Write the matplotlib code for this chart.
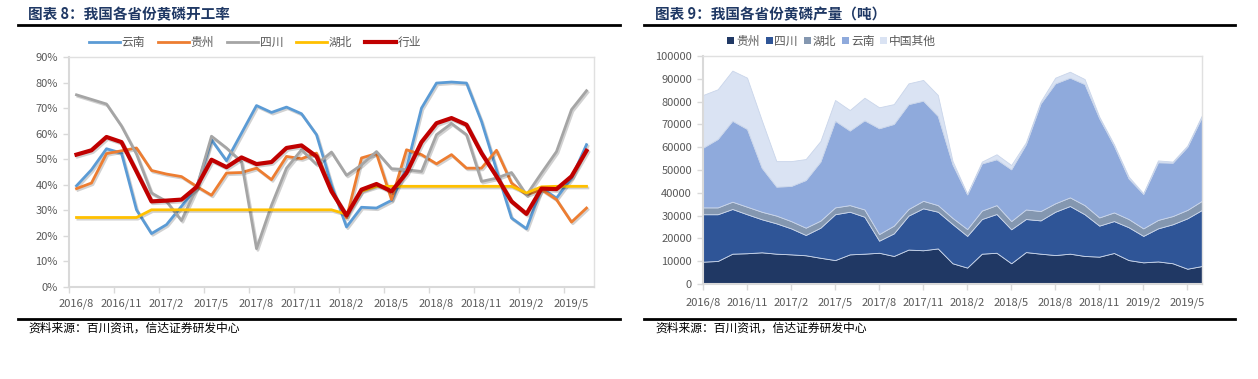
import matplotlib
matplotlib.use("Agg")
import matplotlib.pyplot as plt
import matplotlib.patheffects as pe
from matplotlib.lines import Line2D
from matplotlib.patches import Patch
import numpy as np

plt.rcParams['font.family'] = ['Noto Sans CJK SC', 'DejaVu Sans']

# 月份 2016/8 - 2019/6
n_months = 35
tick_pos = [0, 3, 6, 9, 12, 15, 18, 21, 24, 27, 30, 33]
tick_labels = ['2016/8', '2016/11', '2017/2', '2017/5', '2017/8', '2017/11',
               '2018/2', '2018/5', '2018/8', '2018/11', '2019/2', '2019/5']

# 图表 8: 开工率 (%)
yunnan = [39.6, 45.9, 54.1, 52.4, 30.2, 20.9, 24.4, 31.6, 38.7, 57.6, 49.4, 60.2,
          71.0, 68.3, 70.4, 67.8, 59.6, 40.0, 23.5, 31.2, 30.9, 33.9, 46.5, 70.0,
          79.8, 80.2, 79.8, 64.8, 45.9, 27.0, 22.8, 38.7, 34.8, 42.6, 55.7]
guizhou = [38.5, 40.7, 52.2, 53.3, 54.4, 45.6, 44.2, 43.2, 39.4, 35.9, 44.6, 44.8,
           46.5, 42.0, 51.1, 50.2, 52.4, 38.0, 27.0, 50.5, 52.2, 34.2, 53.7, 51.8,
           48.2, 51.8, 46.5, 46.5, 53.5, 40.7, 36.1, 38.1, 34.2, 25.4, 30.9]
sichuan = [75.2, 73.4, 71.6, 63.0, 52.0, 36.8, 33.5, 26.0, 38.7, 59.0, 54.4, 49.0,
           15.0, 32.0, 46.5, 53.7, 48.0, 52.8, 43.7, 47.8, 53.0, 46.3, 45.9, 45.2,
           59.6, 64.0, 59.6, 41.3, 42.6, 44.8, 36.0, 44.6, 53.0, 69.4, 76.8]
hubei = [27.2, 27.2, 27.2, 27.2, 27.2, 30.2, 30.2, 30.2, 30.2, 30.2, 30.2, 30.2,
         30.2, 30.2, 30.2, 30.2, 30.2, 30.2, 28.5, 37.5, 39.4, 39.4, 39.4, 39.4,
         39.4, 39.4, 39.4, 39.4, 39.4, 39.4, 36.8, 39.2, 39.4, 39.4, 39.4]
hangye = [51.8, 53.5, 58.7, 56.7, 45.2, 33.5, 33.8, 34.2, 39.1, 49.8, 46.9, 50.7,
          48.1, 48.9, 54.4, 55.4, 51.1, 37.4, 28.0, 38.1, 40.3, 37.4, 44.6, 56.7,
          64.1, 66.1, 63.5, 52.4, 43.3, 33.5, 28.6, 38.5, 38.3, 43.3, 53.3]

# 图表 9: 产量 (吨), 各层读数为累计顶线
top_guizhou = [9800, 10100, 13300, 13500, 13900, 13300, 13000, 12600, 11500, 10500,
               13000, 13300, 13700, 12300, 15100, 14800, 15600, 9100, 7200, 13300,
               13700, 9100, 14000, 13300, 12700, 13300, 12300, 12000, 13600, 10500,
               9500, 9900, 9100, 6700, 7900]
top_sichuan = [30600, 30600, 32900, 30600, 28400, 26600, 24400, 21500, 24700, 30600,
               31700, 29500, 19000, 22200, 30000, 33200, 31700, 26300, 21100, 28500,
               30700, 24000, 28500, 27900, 31700, 34200, 30600, 25600, 27600, 24900,
               21100, 24400, 26200, 28800, 32500]
top_hubei = [33600, 33600, 36100, 33900, 31700, 30000, 27600, 24700, 27800, 33600,
             34600, 32700, 21900, 25600, 32900, 36500, 34600, 29000, 24100, 32200,
             34600, 27600, 32700, 32000, 35400, 38000, 34600, 29200, 31400, 28500,
             24400, 28100, 29800, 32500, 36500]
top_yunnan = [59800, 63600, 71600, 68000, 51000, 42700, 43000, 45600, 53700, 71600,
              67300, 71800, 68300, 70200, 78900, 80400, 73700, 52500, 39300, 52900,
              54700, 50300, 61300, 79200, 88000, 90500, 87700, 72700, 60700, 46300,
              39500, 53400, 53200, 60200, 73400]
top_total = [82900, 85400, 93600, 90500, 71900, 53900, 53900, 54800, 62700, 80700,
             76300, 81700, 77500, 78900, 88000, 89500, 82900, 54000, 39500, 53700,
             56900, 52200, 62100, 80000, 90500, 93100, 89900, 73400, 61300, 47100,
             39800, 54200, 53700, 60700, 74100]

area_names = ['贵州', '四川', '湖北', '云南', '中国其他']
area_colors = ['#203864', '#2F5597', '#8497B0', '#8FAADC', '#DAE3F3']

gray_txt = '#595959'
navy = '#1F3864'

fig = plt.figure(figsize=(12.58, 3.79), dpi=100)

# ---------- 标题和分隔线 ----------
fig.text(28 / 1258, 1 - 14 / 379, '图表 8：我国各省份黄磷开工率', fontsize=10.5,
         fontweight='bold', color=navy, va='center', ha='left')
fig.text(655 / 1258, 1 - 14 / 379, '图表 9：我国各省份黄磷产量（吨）', fontsize=10.5,
         fontweight='bold', color=navy, va='center', ha='left')
for x0, x1 in [(18, 620), (644, 1235)]:
    for yy in (25, 319):
        fig.add_artist(Line2D([x0 / 1258, x1 / 1258], [1 - yy / 379, 1 - yy / 379],
                              color='black', lw=2))
fig.text(28 / 1258, 1 - 328 / 379, '资料来源：百川资讯，信达证券研发中心', fontsize=8.5,
         color='black', va='center', ha='left', style='italic')
fig.text(655 / 1258, 1 - 328 / 379, '资料来源：百川资讯，信达证券研发中心', fontsize=8.5,
         color='black', va='center', ha='left', style='italic')

# ---------- 左图: 开工率 ----------
ax1 = fig.add_axes([69 / 1258, 1 - 287 / 379, 525 / 1258, 230 / 379])
x = np.arange(n_months)
shadow = [pe.SimpleLineShadow(offset=(1.0, -1.2), alpha=0.18, shadow_color='black'), pe.Normal()]
series = [('云南', yunnan, '#5B9BD5', 2.0), ('贵州', guizhou, '#ED7D31', 2.0),
          ('四川', sichuan, '#A5A5A5', 2.0), ('湖北', hubei, '#FFC000', 2.0),
          ('行业', hangye, '#C00000', 3.0)]
for name, vals, col, lw in series:
    ax1.plot(x, vals, color=col, lw=lw, label=name, path_effects=shadow,
             solid_joinstyle='round')

ax1.set_xlim(-0.5, n_months - 0.5)
ax1.set_ylim(0, 90)
ax1.set_yticks(range(0, 91, 10))
ax1.set_yticklabels([f'{v}%' for v in range(0, 91, 10)])
ax1.set_xticks(tick_pos)
ax1.set_xticklabels(tick_labels)
ax1.set_xticks([p - 0.5 for p in tick_pos], minor=True)
ax1.tick_params(axis='x', which='major', length=0, pad=8)
ax1.tick_params(axis='x', which='minor', length=4, color='#D9D9D9', width=1)
ax1.tick_params(axis='y', length=4, color='#D9D9D9', width=1, pad=4)
ax1.tick_params(labelsize=8, labelcolor=gray_txt)
for s in ax1.spines.values():
    s.set_color('#E0E0E0')
    s.set_linewidth(1)
ax1.spines['left'].set_color('#D9D9D9')
ax1.spines['bottom'].set_color('#D9D9D9')
ax1.spines['left'].set_linewidth(1.5)
ax1.spines['bottom'].set_linewidth(1.5)
leg1 = ax1.legend(loc='lower left', bbox_to_anchor=(12 / 525, 1.0), ncol=5, frameon=False,
                  fontsize=8.5, handlelength=2.6, handletextpad=0.15, columnspacing=1.1,
                  borderaxespad=0.3)
for t in leg1.get_texts():
    t.set_color(gray_txt)
for h in leg1.get_lines():
    h.set_path_effects([])

# ---------- 右图: 产量 ----------
ax2 = fig.add_axes([703 / 1258, 1 - 284 / 379, 499 / 1258, 228 / 379])
tops = [top_guizhou, top_sichuan, top_hubei, top_yunnan, top_total]
prev = np.zeros(n_months)
for name, top, col in zip(area_names, tops, area_colors):
    top = np.array(top, dtype=float)
    ax2.fill_between(x, prev, top, color=col, lw=0.6, edgecolor='#C9D5EA')
    prev = top
ax2.set_xlim(0, n_months - 1)
ax2.set_ylim(0, 100000)
ax2.set_yticks(range(0, 100001, 10000))
ax2.set_yticklabels([str(v) for v in range(0, 100001, 10000)])
ax2.set_xticks(tick_pos)
ax2.set_xticklabels(tick_labels)
ax2.tick_params(axis='x', length=4, color='#D9D9D9', width=1, pad=6)
ax2.tick_params(axis='y', length=4, color='#D9D9D9', width=1, pad=4)
ax2.tick_params(labelsize=8, labelcolor=gray_txt)
for s in ax2.spines.values():
    s.set_color('#E0E0E0')
    s.set_linewidth(1)
ax2.spines['left'].set_color('#D9D9D9')
ax2.spines['bottom'].set_color('#D9D9D9')
ax2.spines['left'].set_linewidth(1.5)
ax2.spines['bottom'].set_linewidth(1.5)
handles = [Patch(facecolor=c, edgecolor='none') for c in area_colors]
leg2 = ax2.legend(handles, area_names, loc='lower left', bbox_to_anchor=(16 / 499, 1.0),
                  ncol=5, frameon=False, fontsize=8.5, handlelength=0.6, handleheight=0.6,
                  handletextpad=0.15, columnspacing=0.5, borderaxespad=0.3)
for t in leg2.get_texts():
    t.set_color(gray_txt)

fig.savefig('out.png', dpi=100)
